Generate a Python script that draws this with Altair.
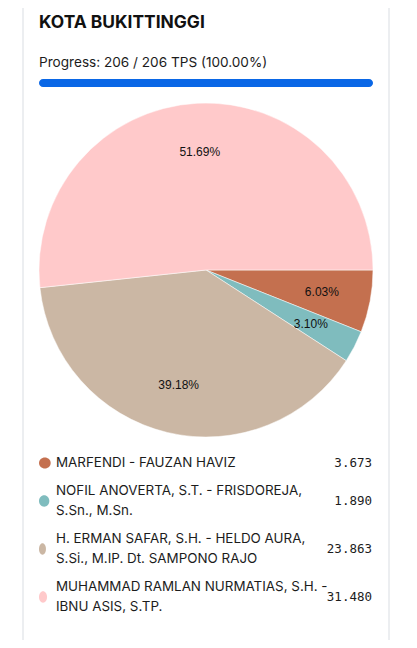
import math
import altair as alt
import pandas as pd

TITLE = "KOTA BUKITTINGGI"
TPS_DONE = 206
TPS_TOTAL = 206

CANDIDATES = [
    "MARFENDI - FAUZAN HAVIZ",
    "NOFIL ANOVERTA, S.T. - FRISDOREJA, S.Sn., M.Sn.",
    "H. ERMAN SAFAR, S.H. - HELDO AURA, S.Si., M.IP. Dt. SAMPONO RAJO",
    "MUHAMMAD RAMLAN NURMATIAS, S.H. - IBNU ASIS, S.TP.",
]
LEGEND_LABELS = [
    "MARFENDI - FAUZAN HAVIZ",
    "NOFIL ANOVERTA, S.T. - FRISDOREJA,\nS.Sn., M.Sn.",
    "H. ERMAN SAFAR, S.H. - HELDO AURA,\nS.Si., M.IP. Dt. SAMPONO RAJO",
    "MUHAMMAD RAMLAN NURMATIAS, S.H. -\nIBNU ASIS, S.TP.",
]
VOTES = [3673, 1890, 23863, 31480]
COLORS = ["#c4704f", "#7fbcbe", "#cbb7a4", "#ffc9ca"]


def ellipse(rx, ry=0.95):
    cx = -1 + rx
    return (f"M{cx - rx:.3f},0A{rx},{ry} 0 1,0 {cx + rx:.3f},0"
            f"A{rx},{ry} 0 1,0 {cx - rx:.3f},0Z")


DOT_SHAPES = [ellipse(0.975, 0.92), ellipse(0.86), ellipse(0.58), ellipse(0.67)]

FONT = "Inter"
LINE_H = 20

df = pd.DataFrame({
    "name": CANDIDATES,
    "label": LEGEND_LABELS,
    "votes": VOTES,
    "idx": list(range(len(CANDIDATES))),
})

color = alt.Color("name:N", scale=alt.Scale(domain=CANDIDATES, range=COLORS), legend=None)
theta = alt.Theta("votes:Q", stack=True,
                  scale=alt.Scale(range=[math.pi / 2, math.pi / 2 + 2 * math.pi]))
order = alt.Order("idx:Q")

base = alt.Chart(df).transform_joinaggregate(total="sum(votes)").transform_calculate(
    pct="datum.votes / datum.total",
    vtxt="replace(format(datum.votes, ','), ',', '.')",
    lines="length(split(datum.label, '\\n'))",
    h=f"datum.lines * {LINE_H} + 8",
)

pie = base.mark_arc(radius=167, stroke="#ffffff", strokeWidth=0.5).encode(
    theta=theta, color=color, order=order,
    x=alt.value(198), y=alt.value(262),
)

pct_labels = base.mark_text(radius=118, font="Liberation Sans", fontSize=12,
                            color="#111111").encode(
    theta=theta, order=order,
    text=alt.Text("pct:Q", format=".2%"),
    x=alt.value(198), y=alt.value(262),
)

legend_base = base.transform_window(
    cum="sum(h)", sort=[alt.SortField("idx")]
).transform_calculate(
    center="datum.cum - datum.h / 2",
    first_line=f"datum.center - (datum.lines - 1) * {LINE_H} / 2",
)

yscale = alt.Scale(domain=[0, 100], range=[441, 541])
ypos = alt.Y("center:Q", scale=yscale, axis=None)

dots = legend_base.mark_point(filled=True, opacity=1, size=144).encode(
    x=alt.value(37), y=ypos, color=color,
    shape=alt.Shape("name:N", scale=alt.Scale(domain=CANDIDATES, range=DOT_SHAPES), legend=None),
)

names = legend_base.mark_text(align="left", baseline="middle", lineBreak="\n", lineHeight=LINE_H,
                              font=FONT, fontSize=13.4, color="#1c1c1c").encode(
    x=alt.value(48), y=alt.Y("first_line:Q", scale=yscale, axis=None), text="label:N",
)

values = legend_base.mark_text(align="right", baseline="middle", font="DejaVu Sans Mono",
                               fontSize=12.5, color="#1c1c1c").encode(
    x=alt.value(364), y=ypos, text="vtxt:N",
)

head = pd.DataFrame({
    "title": [TITLE],
    "progress": [f"Progress: {TPS_DONE} / {TPS_TOTAL} TPS ({TPS_DONE / TPS_TOTAL * 100:.2f}%)"],
    "done": [TPS_DONE],
    "start": [0],
})

title = alt.Chart(head).mark_text(align="left", baseline="alphabetic", font=FONT, fontSize=17.4,
                                  fontWeight="bold", color="#111111").encode(
    x=alt.value(31), y=alt.value(19.5), text="title:N")

progress_text = alt.Chart(head).mark_text(align="left", baseline="alphabetic", font=FONT,
                                          fontSize=13.6, color="#1c1c1c").encode(
    x=alt.value(31), y=alt.value(59), text="progress:N")

bar = alt.Chart(head).mark_bar(cornerRadius=4, color="#0a67e6").encode(
    x=alt.X("start:Q", scale=alt.Scale(domain=[0, TPS_TOTAL], range=[31, 365]), axis=None),
    x2="done:Q",
    y=alt.value(71), y2=alt.value(79),
)

frame = alt.Chart(pd.DataFrame({"edge": [15, 381]})).mark_rule(color="#d9dde2", strokeWidth=1).encode(
    x=alt.X("edge:Q", scale=alt.Scale(domain=[0, 401], range=[0, 401]), axis=None),
    y=alt.value(0), y2=alt.value(640),
)

chart = alt.layer(frame, title, progress_text, bar, pie, pct_labels, dots, names, values).resolve_scale(
    x="independent", y="independent"
).properties(
    width=401, height=632, autosize=alt.AutoSizeParams(type="none"), padding=0,
    background="#ffffff",
).configure_view(stroke=None)

chart.save("out.html", embed_options={"renderer": "svg", "actions": False})
